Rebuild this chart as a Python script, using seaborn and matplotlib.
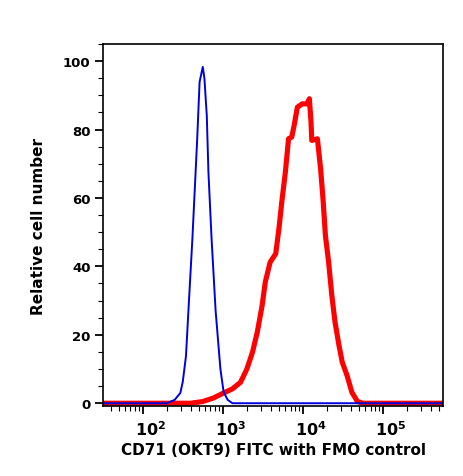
import numpy as np
import pandas as pd
import matplotlib
matplotlib.use("Agg")
import matplotlib.pyplot as plt
import matplotlib.ticker as mticker
import matplotlib.transforms as mtransforms
import seaborn as sns

# FMO control (blue)
fmo_x = [25, 200, 251, 295, 316, 347, 372, 417, 479, 513, 562, 589, 631, 661,
         724, 813, 933, 1023, 1148, 1318, 800000]
fmo_y = [0, 0, 1, 3, 6.2, 13.8, 27, 48, 77.3, 93.9, 98.3, 95, 84, 67.6, 48,
         27, 10, 3.3, 1, 0, 0]

# CD71 (OKT9) FITC stained (red)
cd71_x = [25, 398, 562, 759, 1023, 1318, 1660, 1995, 2344, 2692, 3090, 3388,
          3890, 4571, 5012, 5495, 6026, 6607, 7244, 7762, 8511, 9772, 11220,
          12023, 12589, 12882, 15136, 16596, 17783, 19055, 20893, 22909, 25119,
          28184, 30903, 35481, 40738, 47863, 56234, 800000]
cd71_y = [0, 0, 0.5, 1.5, 3, 4.2, 6.1, 10, 14.9, 20.8, 28.5, 35.4, 41.2, 43.7,
          51, 59.7, 67.5, 77.3, 77.8, 81.2, 86.5, 87.5, 87.5, 89, 82.3, 76.8,
          77.3, 68.5, 59.7, 49, 41.2, 31.5, 23.7, 16.8, 12, 8.1, 3.2, 0.5, 0, 0]

x_ticks = [1e2, 1e3, 1e4, 1e5]
x_tick_labels = [r"$\mathbf{10^{2}}$", r"$\mathbf{10^{3}}$",
                 r"$\mathbf{10^{4}}$", r"$\mathbf{10^{5}}$"]
y_ticks = [0, 20, 40, 60, 80, 100]

sns.set_style("ticks")
plt.rcParams["font.family"] = ["DejaVu Sans"]
plt.rcParams["font.weight"] = "bold"
plt.rcParams["mathtext.fontset"] = "dejavusans"
plt.rcParams["text.color"] = "black"
plt.rcParams["axes.labelcolor"] = "black"
plt.rcParams["xtick.color"] = "black"
plt.rcParams["ytick.color"] = "black"

df_red = pd.DataFrame({"x": cd71_x, "y": cd71_y})
df_blue = pd.DataFrame({"x": fmo_x, "y": fmo_y})

fig = plt.figure(figsize=(4.63, 4.77), dpi=100)
ax = fig.add_axes([0.2225, 0.1461, 0.7345, 0.7596])

sns.lineplot(data=df_red, x="x", y="y", ax=ax, color="#ff0000", lw=3.7,
             sort=False, estimator=None)
sns.lineplot(data=df_blue, x="x", y="y", ax=ax, color="#0000dd", lw=1.4,
             sort=False, estimator=None)

ax.set_xscale("log")
ax.set_xlim(32, 5.6e5)
ax.set_ylim(-0.9, 105)

ax.set_xticks(x_ticks)
ax.set_xticklabels(x_tick_labels, fontsize=11.5)
ax.xaxis.set_minor_locator(mticker.LogLocator(base=10, subs=np.arange(2, 10)))
ax.xaxis.set_minor_formatter(mticker.NullFormatter())
ax.set_yticks(y_ticks)
ax.set_yticklabels([str(v) for v in y_ticks], fontsize=9.5, fontweight="bold")
ax.yaxis.set_minor_locator(mticker.MultipleLocator(5))

ax.tick_params(axis="both", which="major", direction="out", length=6, width=1.3,
               top=False, right=False, pad=3)
ax.tick_params(axis="both", which="minor", direction="out", length=3.5, width=0.8,
               top=False, right=False)

shift = mtransforms.ScaledTranslation(8 / 100, 0, fig.dpi_scale_trans)
for lab in ax.get_xticklabels():
    lab.set_transform(lab.get_transform() + shift)

for s in ax.spines.values():
    s.set_visible(True)
    s.set_color("black")
    s.set_linewidth(1.2)

ax.set_xlabel("CD71 (OKT9) FITC with FMO control", fontsize=11,
              fontweight="bold", labelpad=3)
ax.set_ylabel("Relative cell number", fontsize=11, fontweight="bold",
              labelpad=12)

fig.savefig("out.png", dpi=100)
